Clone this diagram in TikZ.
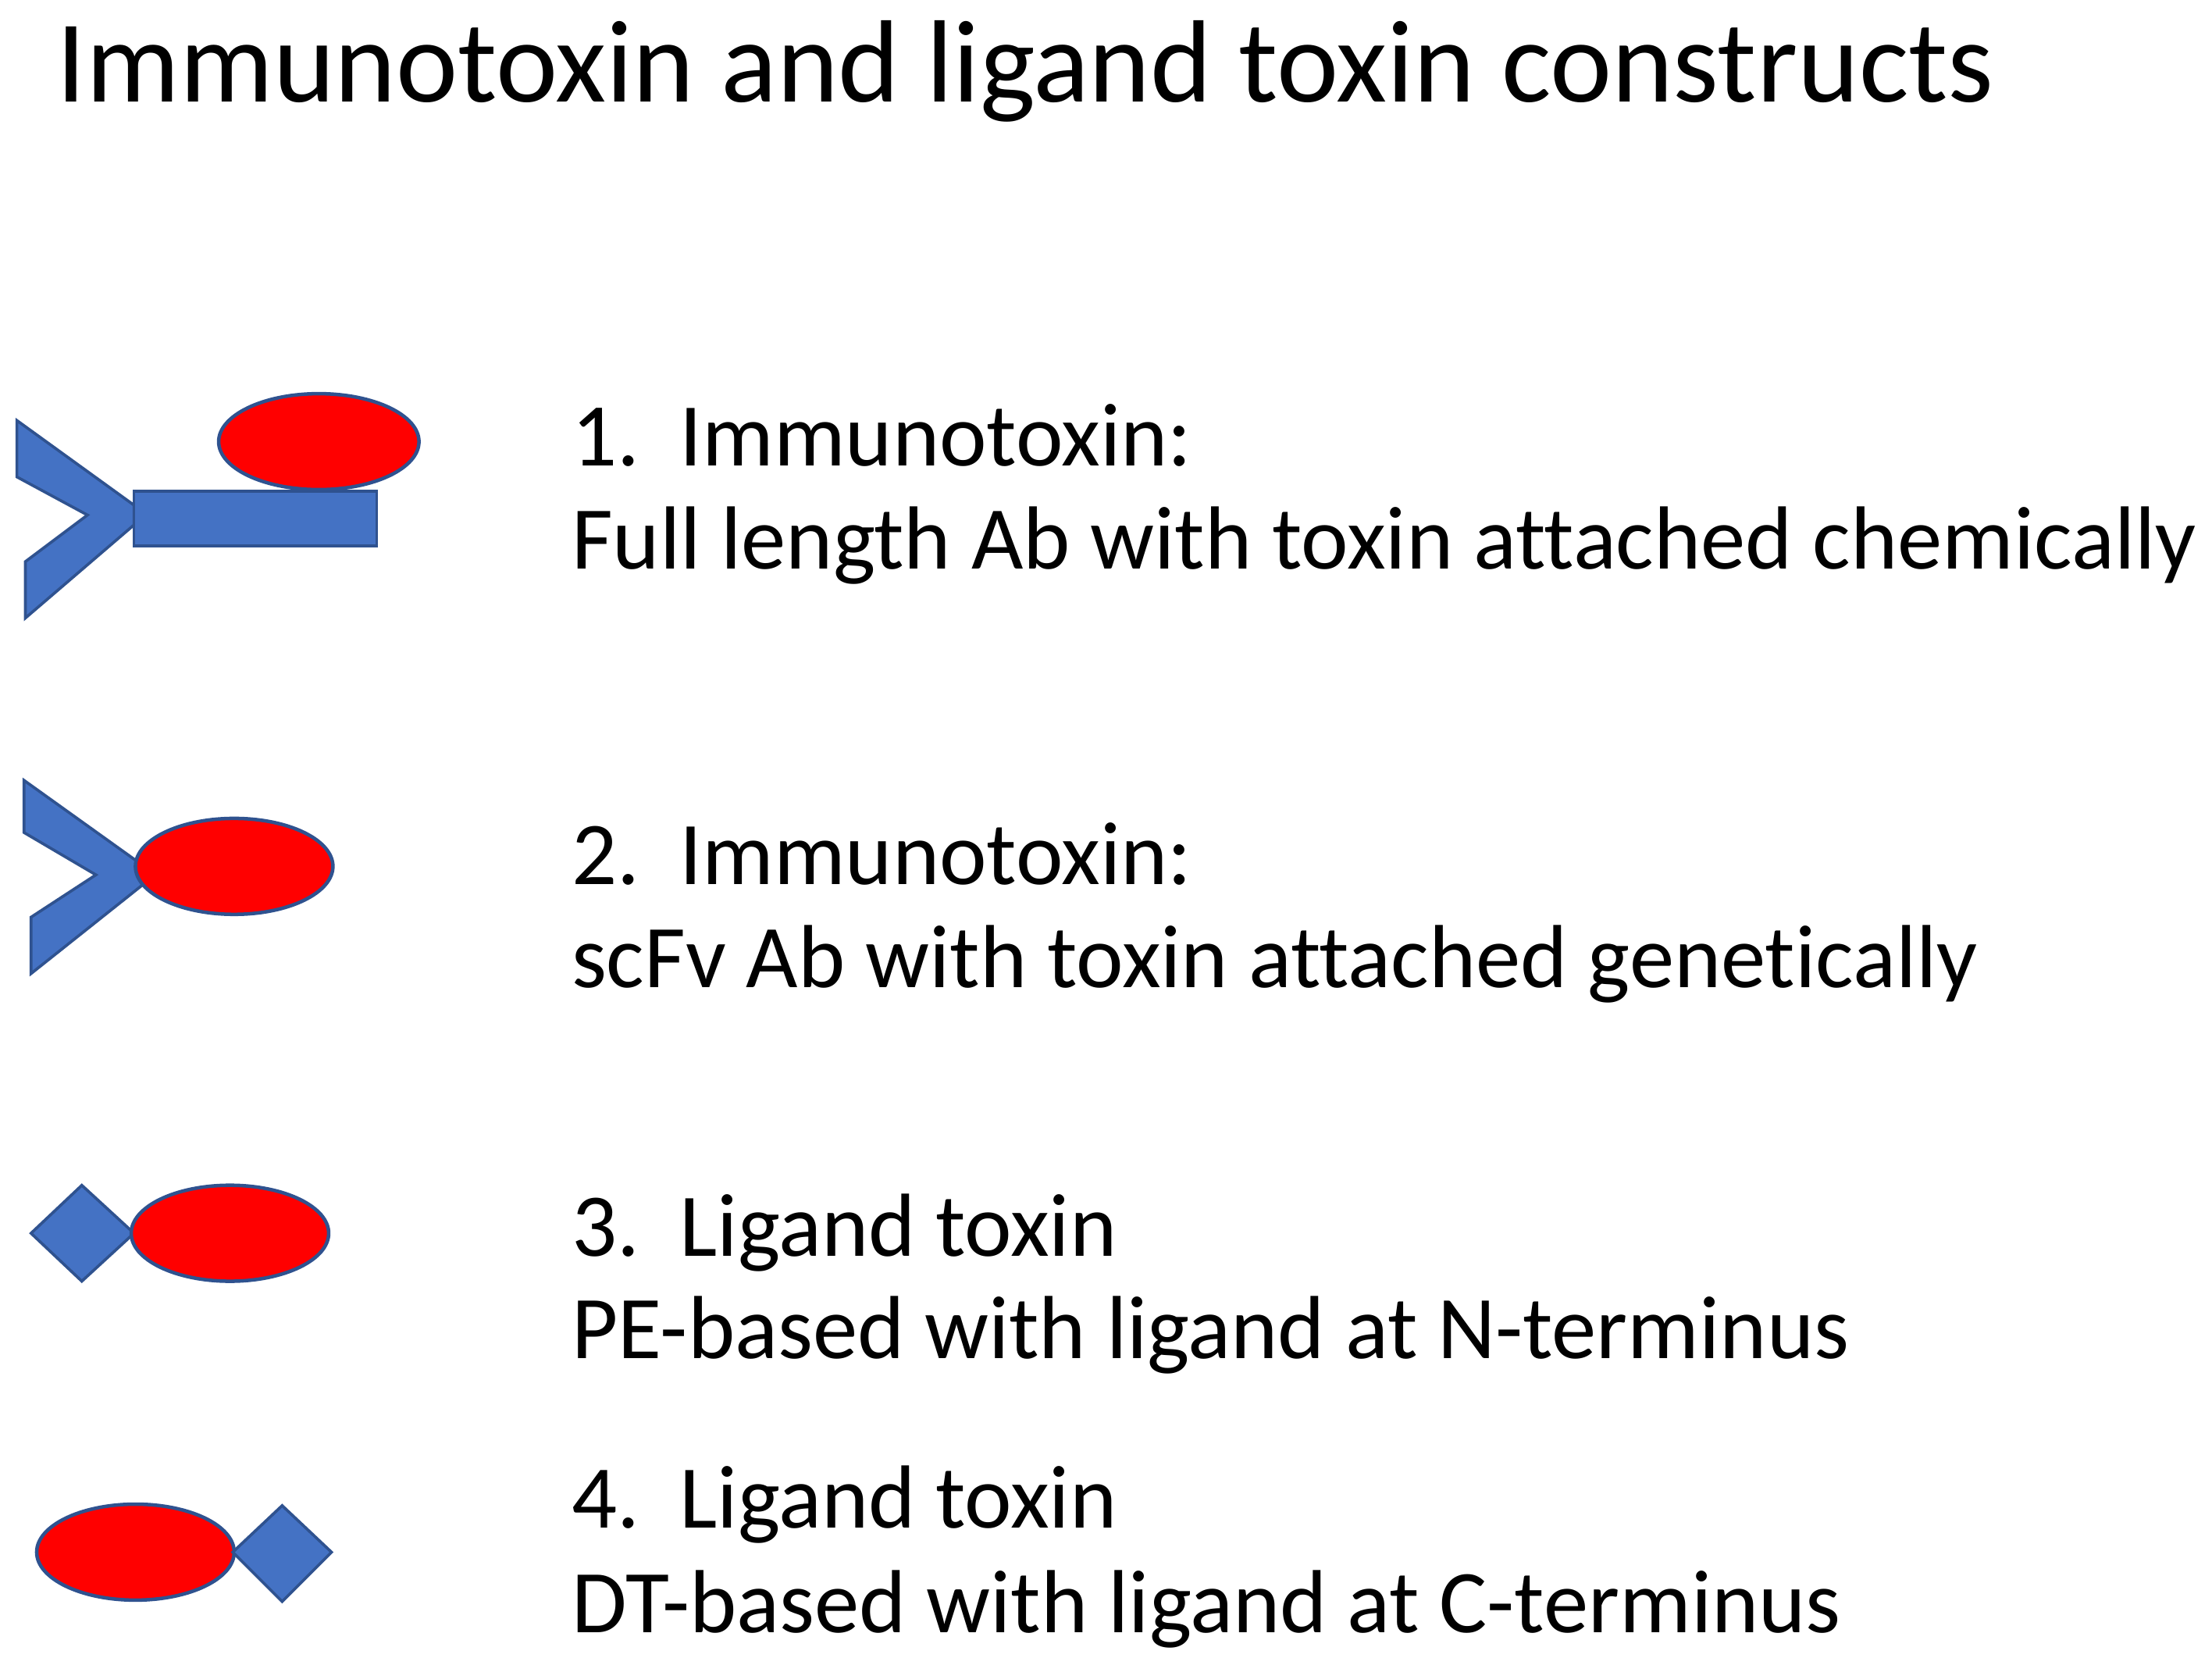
\documentclass[tikz,border=0pt]{standalone}
\usepackage{fontspec}
\setmainfont[Ligatures=NoCommon]{Carlito}
\begin{document}
\begin{tikzpicture}[x=1pt,y=-1pt,
  blueshape/.style={fill={rgb,255:red,68;green,114;blue,196},draw={rgb,255:red,47;green,82;blue,143},line width=2pt,line join=miter},
  redshape/.style={fill=red,draw={rgb,255:red,47;green,82;blue,143},line width=2.5pt},
  item/.style={anchor=base west,inner sep=0pt,font=\fontsize{63.5}{66}\selectfont}]
\useasboundingbox (0,0) rectangle (1568,1175);
\node[anchor=base west,inner sep=0pt,font=\fontsize{83}{86}\selectfont] (title) at (40,72) {Immunotoxin and ligand toxin constructs};
% 1
\draw[blueshape] (12,298)--(95,358)--(95,372)--(18,438)--(18,398)--(62,365)--(12,338)--cycle;
\draw[blueshape] (95,348) rectangle (267,387);
\draw[redshape] (226,313) ellipse [x radius=71,y radius=34];
% 2
\draw[blueshape] (17,553)--(105,616)--(105,624)--(22,690)--(22,650)--(68,620)--(17,590)--cycle;
\draw[redshape] (166,614) ellipse [x radius=70,y radius=34];
% 3
\draw[blueshape] (22,874)--(58,840)--(95,874)--(58,908)--cycle;
\draw[redshape] (163,874) ellipse [x radius=70,y radius=34];
% 4
\draw[redshape] (96,1100) ellipse [x radius=70,y radius=34];
\draw[blueshape] (165,1100)--(200,1067)--(235,1100)--(200,1135)--cycle;
\node[item] (t1a) at (405,330) {1.\hspace{0.45em}Immunotoxin:};
\node[item] (t1b) at (405,403) {Full length Ab with toxin attached chemically};
\node[item] (t2a) at (405,627) {2.\hspace{0.45em}Immunotoxin:};
\node[item] (t2b) at (405,700) {scFv Ab with toxin attached genetically};
\node[item] (t3a) at (405,890) {3.\hspace{0.45em}Ligand toxin};
\node[item] (t3b) at (405,963) {PE-based with ligand at N-terminus};
\node[item] (t4a) at (405,1083) {4.\hspace{0.45em}Ligand toxin};
\node[item] (t4b) at (405,1157) {DT-based with ligand at C-terminus};
\end{tikzpicture}
\end{document}
